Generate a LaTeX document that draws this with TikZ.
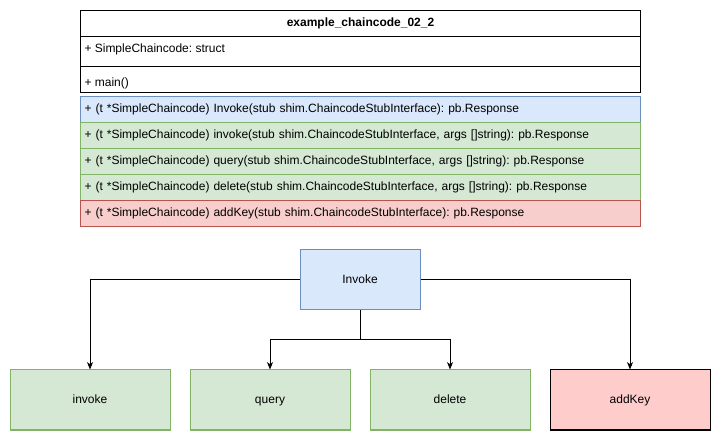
\documentclass[tikz,border=0pt]{standalone}
\usepackage{fontspec}
\setmainfont{Liberation Sans}
\usetikzlibrary{arrows.meta}
\definecolor{bluefill}{HTML}{DAE8FC}
\definecolor{bluedraw}{HTML}{6C8EBF}
\definecolor{greenfill}{HTML}{D5E8D4}
\definecolor{greendraw}{HTML}{82B366}
\definecolor{redfill}{HTML}{F8CECC}
\definecolor{reddraw}{HTML}{B85450}
\definecolor{keyfill}{HTML}{FFCCCC}
\frenchspacing
\begin{document}
\begin{tikzpicture}[x=0.75pt,y=-0.75pt,line width=0.75pt,
  font=\fontsize{9}{11}\selectfont,
  row/.style={draw,rectangle,anchor=north west,minimum width=420pt,minimum height=19.5pt,
    inner xsep=3pt,inner ysep=0pt,text width=414pt,align=left,text height=6.6pt,text depth=1.9pt},
  bluerow/.style={row,fill=bluefill,draw=bluedraw},
  greenrow/.style={row,fill=greenfill,draw=greendraw},
  redrow/.style={row,fill=redfill,draw=reddraw},
  box/.style={draw,rectangle,minimum width=120pt,minimum height=45pt,inner sep=0pt,
    text height=6.6pt,text depth=1.9pt},
  greenbox/.style={box,fill=greenfill,draw=greendraw},
  arr/.style={-{Stealth[length=5.5pt,width=4.5pt,inset=1.5pt]}}]
\fill[white] (0,0) rectangle (721,441);
\useasboundingbox (0,0) rectangle (721,441);
% class box
\node[draw,rectangle,anchor=north west,minimum width=420pt,minimum height=19.5pt,inner sep=0pt,
  text height=6.6pt,text depth=1.9pt,font=\fontsize{9}{11}\selectfont\bfseries] (hdr) at (80,10) {example\_chaincode\_02\_2};
\node[draw,rectangle,anchor=north west,minimum width=420pt,minimum height=22.5pt,inner sep=0pt] (attr) at (80,36) {};
\node[anchor=west,inner xsep=3pt,inner ysep=0pt,text height=6.6pt,text depth=1.9pt] (attrtxt) at (80,49) {+ SimpleChaincode: struct};
\node[row] (mainrow) at (80,66) {};
\node[anchor=west,inner xsep=3pt,inner ysep=0pt,text height=6.6pt,text depth=1.9pt] (maintxt) at (80,83) {+ main()};
\node[bluerow] (r1) at (80,96) {+ (t *SimpleChaincode) Invoke(stub shim.ChaincodeStubInterface): pb.Response};
\node[greenrow] (r2) at (80,122) {+ (t *SimpleChaincode) invoke(stub shim.ChaincodeStubInterface, args []string): pb.Response};
\node[greenrow] (r3) at (80,148) {+ (t *SimpleChaincode) query(stub shim.ChaincodeStubInterface, args []string): pb.Response};
\node[greenrow] (r4) at (80,174) {+ (t *SimpleChaincode) delete(stub shim.ChaincodeStubInterface, args []string): pb.Response};
\node[redrow] (r5) at (80,200) {+ (t *SimpleChaincode) addKey(stub shim.ChaincodeStubInterface): pb.Response};
% call graph
\node[box,fill=bluefill,draw=bluedraw,minimum width=90pt] (inv) at (360,280) {Invoke};
\node[greenbox] (b1) at (90,400) {invoke};
\node[greenbox] (b2) at (270,400) {query};
\node[greenbox] (b3) at (450,400) {delete};
\node[box,fill=keyfill,draw=black] (b4) at (630,400) {addKey};
\coordinate (split) at (360,340);
\draw[arr] (inv.west) -| (b1.north);
\draw[arr] (inv.east) -| (b4.north);
\draw (inv.south) -- (split);
\draw[arr] (split) -| (b2.north);
\draw[arr] (split) -| (b3.north);
\end{tikzpicture}
\end{document}
